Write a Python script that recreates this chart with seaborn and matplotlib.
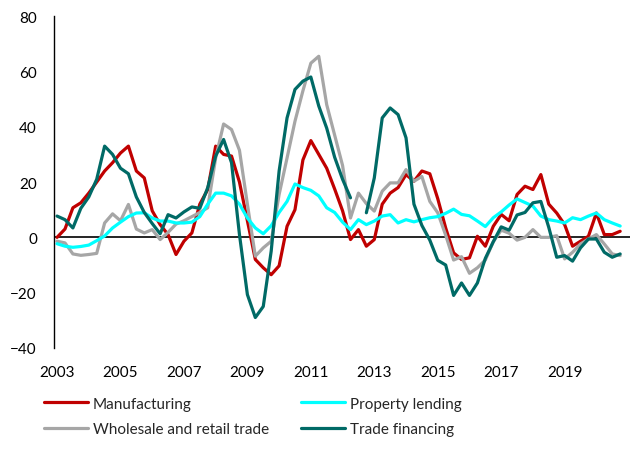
import numpy as np
import pandas as pd
import matplotlib
matplotlib.use("Agg")
import matplotlib.pyplot as plt
import seaborn as sns

# Quarterly series, 2003Q1 - 2020Q4 (y/y %)
quarters = pd.period_range("2003Q1", "2020Q4", freq="Q")

manufacturing = [0, 3, 10.7, 12.5, 16, 20, 24, 27, 30.5, 33, 24, 21.5,
                 9.6, 4.6, 1, -6.2, -1.4, 1.6, 12, 17.3, 33, 30, 29.4, 20,
                 6, -8, -11, -13.5, -10.3, 4, 10, 28, 35, 30, 25, 17.5,
                 9.6, -0.8, 2.8, -3.2, -0.8, 12, 16, 18, 22.7, 20.3, 24, 23,
                 14, 3.4, -5.6, -8, -7.4, 0.4, -3.2, 4, 8.3, 6, 15.5, 18.5,
                 17.3, 22.7, 12, 8.8, 4.6, -3.2, -1.4, 0.4, 8.8, 1, 1, 2.2]

property_lending = [-2.3, -3.2, -3.6, -3.3, -2.8, -1.2, 0.5, 3.4, 5.5, 7.5, 8.8, 8.9,
                    7, 5.9, 5.9, 5.2, 5.2, 5.5, 7.5, 12, 16, 16, 15, 12,
                    7, 3.4, 1.3, 4.2, 9, 13, 19.3, 18, 17, 15, 10.7, 9,
                    5.5, 2.8, 6.4, 4.6, 5.9, 7.7, 8.2, 5.2, 6.4, 5.6, 6.4, 7.1,
                    7.5, 8.7, 10.2, 8.3, 7.8, 5.9, 3.9, 7.1, 9.2, 11.7, 13.9, 12.6,
                    11.3, 7.7, 6.4, 5.9, 5.2, 7.1, 6.4, 7.7, 8.8, 6.4, 5.2, 4.1]

wholesale_retail = [-1.4, -2, -6, -6.5, -6.2, -5.8, 5.2, 8.5, 6, 11.9, 3, 1.6,
                    2.8, -0.8, 1.8, 4.8, 6, 7.5, 9, 10.7, 28.7, 41, 39, 31.5,
                    12, -6.8, -3.8, -1.4, 15.5, 28.7, 42, 53, 63, 65.5, 48, 37,
                    26, 7, 16, 12.2, 9.5, 16.7, 19.7, 19.7, 24.5, 20.3, 22, 13,
                    8.9, 0.8, -8.2, -7, -13, -11, -8.2, -1.6, 2.6, 1.5, -1, 0,
                    2.8, 0, 0, 0.6, -7.8, -5.4, -2.4, -0.6, 1, -2.4, -6, -6.6]

trade_financing = [7.7, 6.4, 3.4, 10.5, 14.6, 21, 33, 30, 25, 23, 14.6, 9,
                   5, 1.3, 8.2, 7, 9.2, 11, 10.5, 18, 29.4, 35.4, 27, 1,
                   -20.7, -29, -25, -5, 24, 43.2, 53.5, 56.5, 58, 47.5, 39.5, 29,
                   21, 14.3, np.nan, 8.9, 21.5, 43.2, 46.8, 44.4, 36, 12, 4.3, -1,
                   -8.3, -10, -21, -16.5, -21, -16.5, -7.6, -1.6, 3.8, 2.6, 8.1, 9,
                   12.5, 13, 3.6, -7.2, -6.6, -8.6, -3.8, -0.6, -0.6, -5.4, -7.2, -6]

series_names = ["Manufacturing", "Wholesale and retail trade",
                "Property lending", "Trade financing"]
series_colors = ["#C00000", "#A6A6A6", "#00FFFF", "#006A66"]
year_ticks = list(range(2003, 2021, 2))

t = quarters.year + (quarters.quarter - 1) / 4
df = pd.DataFrame({"t": t,
                   "Manufacturing": manufacturing,
                   "Property lending": property_lending,
                   "Wholesale and retail trade": wholesale_retail,
                   "Trade financing": trade_financing})

sns.set_style("white")
plt.rcParams["font.family"] = ["Lato", "DejaVu Sans"]

fig = plt.figure(figsize=(6.3, 4.52), dpi=100)
ax = fig.add_axes([0.085, 0.228, 0.915, 0.734])

ax.axhline(0, color="black", lw=1.2, zorder=1)
for name, col in zip(series_names, series_colors):
    sub = df[["t", name]]
    # draw segment by segment so missing quarters leave a gap
    seg_id = sub[name].isna().cumsum()
    first = True
    for _, seg in sub.dropna().groupby(seg_id[sub[name].notna()]):
        sns.lineplot(data=seg, x="t", y=name, ax=ax, color=col, lw=2.3,
                     label=name if first else None, zorder=2)
        first = False

ax.set_xlim(2002.89, 2021.06)
ax.set_ylim(-40, 80)
ax.set_yticks(range(-40, 81, 20))
ax.set_xticks(year_ticks)
ax.set_xticklabels([str(y) for y in year_ticks])
ax.tick_params(axis="both", length=0, labelsize=11, colors="black")
ax.tick_params(axis="x", pad=12)
ax.tick_params(axis="y", pad=12)
ax.set_xlabel("")
ax.set_ylabel("")
for s in ["top", "right", "bottom"]:
    ax.spines[s].set_visible(False)
ax.spines["left"].set_color("black")
ax.spines["left"].set_linewidth(1.0)

handles, labels = ax.get_legend_handles_labels()
ax.get_legend().remove()
fig.legend(handles, labels, loc="upper left", bbox_to_anchor=(0.06, 0.134),
           ncol=2, frameon=False, fontsize=11, handlelength=2.9,
           handletextpad=0.3, columnspacing=2.1, labelspacing=0.75,
           borderaxespad=0)

fig.savefig("out.png", dpi=100)
